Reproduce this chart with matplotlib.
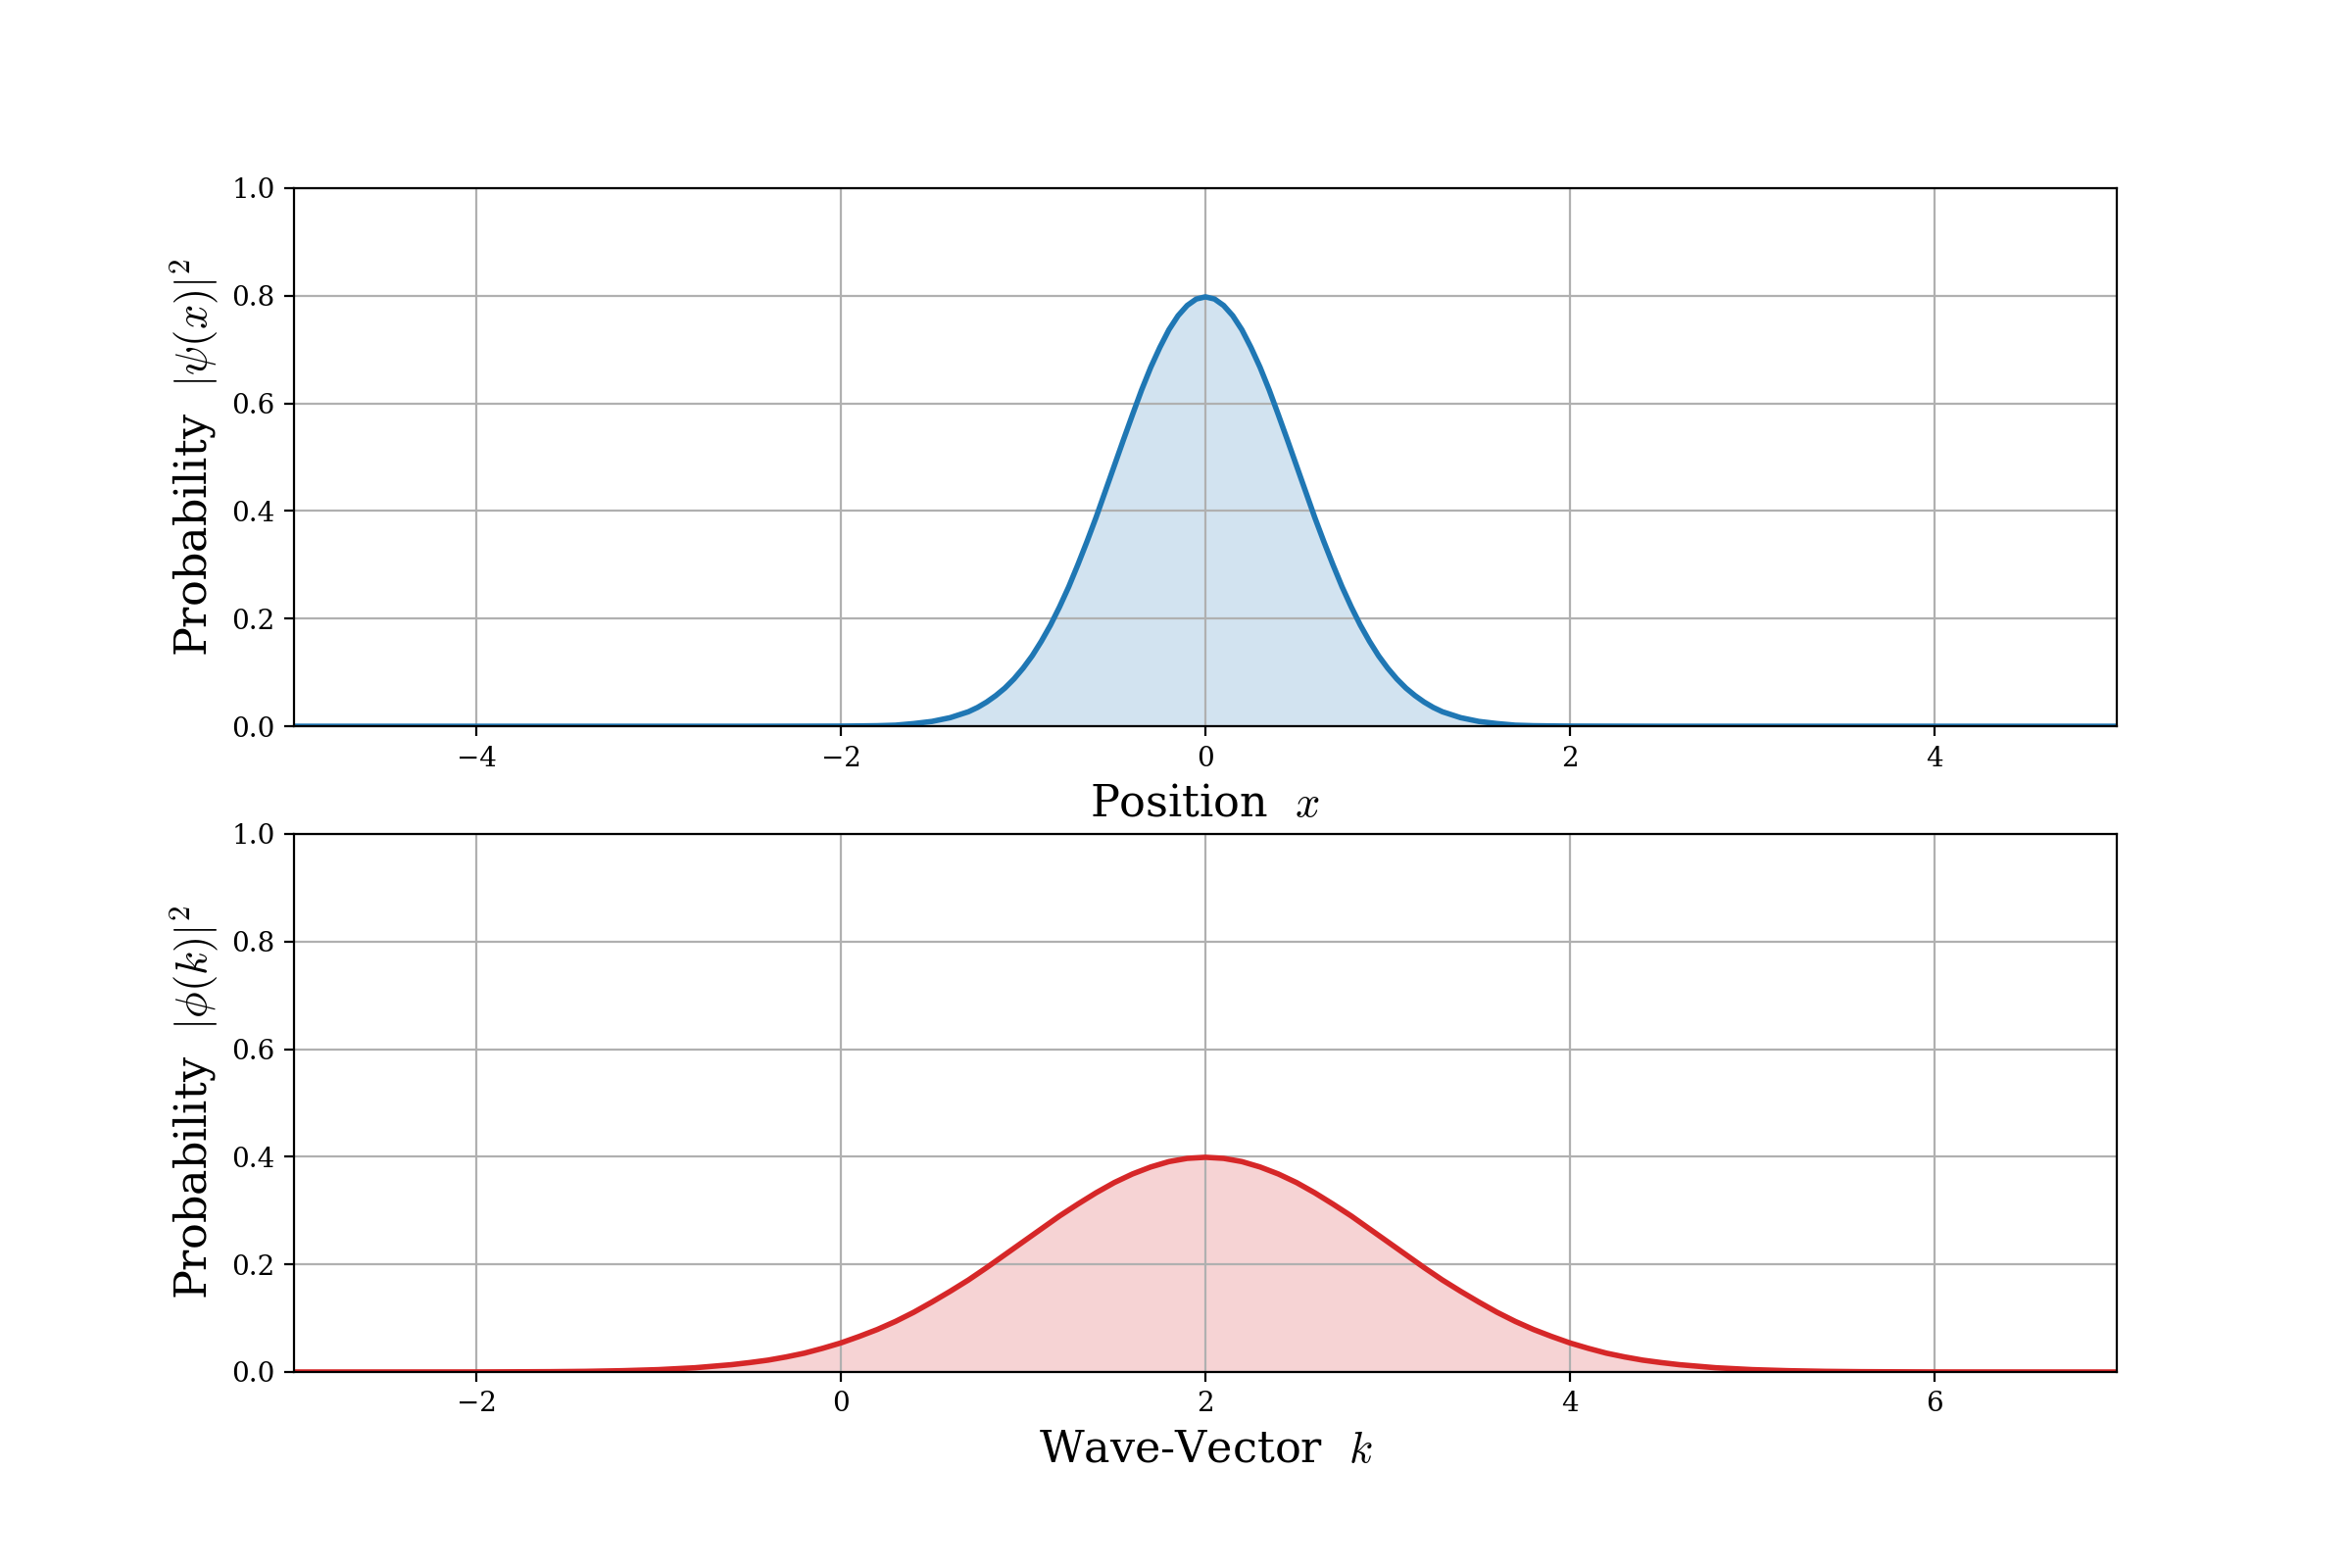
import numpy as np
import matplotlib
matplotlib.use("Agg")
import matplotlib.pyplot as plt

plt.rcParams['font.family'] = ['DejaVu Serif']
plt.rcParams['mathtext.fontset'] = 'cm'

# Position-space probability density
x_pos = [-5.0, -2.5, -2.0, -1.9, -1.8, -1.7, -1.6, -1.5, -1.4, -1.3,
         -1.25, -1.2, -1.15, -1.1, -1.05, -1.0, -0.95, -0.9, -0.85, -0.8,
         -0.75, -0.7, -0.65, -0.6, -0.55, -0.5, -0.45, -0.4, -0.35, -0.3,
         -0.25, -0.2, -0.15, -0.1, -0.05, 0.0,
         0.05, 0.1, 0.15, 0.2, 0.25,
         0.3, 0.35, 0.4, 0.45, 0.5, 0.55, 0.6, 0.65, 0.7, 0.75,
         0.8, 0.85, 0.9, 0.95, 1.0, 1.05, 1.1, 1.15, 1.2, 1.25,
         1.3, 1.4, 1.5, 1.6, 1.7, 1.8, 1.9, 2.0, 2.5, 5.0]
p_pos = [0.0, 0.0, 0.0003, 0.0006, 0.001, 0.002, 0.005, 0.009, 0.016, 0.027,
         0.035, 0.045, 0.057, 0.071, 0.088, 0.108, 0.131, 0.158, 0.188, 0.222,
         0.259, 0.300, 0.343, 0.388, 0.436, 0.484, 0.532, 0.579, 0.625, 0.667,
         0.704, 0.737, 0.763, 0.782, 0.794, 0.798,
         0.794, 0.782, 0.763, 0.737, 0.704,
         0.667, 0.625, 0.579, 0.532, 0.484, 0.436, 0.388, 0.343, 0.300, 0.259,
         0.222, 0.188, 0.158, 0.131, 0.108, 0.088, 0.071, 0.057, 0.045, 0.035,
         0.027, 0.016, 0.009, 0.005, 0.002, 0.001, 0.0006, 0.0003, 0.0, 0.0]

# Wave-vector probability density
k_vals = [-3.0, -2.0, -1.6, -1.4, -1.2, -1.0, -0.8, -0.6,
          -0.5, -0.4, -0.3, -0.2, -0.1, 0.0, 0.1, 0.2, 0.3, 0.4,
          0.5, 0.6, 0.7, 0.8, 0.9, 1.0, 1.1, 1.2, 1.3, 1.4,
          1.5, 1.6, 1.7, 1.8, 1.9, 2.0, 2.1, 2.2, 2.3, 2.4,
          2.5, 2.6, 2.7, 2.8, 2.9, 3.0, 3.1, 3.2, 3.3, 3.4,
          3.5, 3.6, 3.7, 3.8, 3.9, 4.0, 4.1, 4.2, 4.3, 4.4, 4.5,
          4.6, 4.8, 5.0, 5.2, 5.4, 5.6, 6.0, 7.0]
p_k = [0.0, 0.0001, 0.0006, 0.0012, 0.0024, 0.0044, 0.0079, 0.0136,
       0.0175, 0.022, 0.028, 0.035, 0.044, 0.054, 0.066, 0.079, 0.094, 0.111,
       0.130, 0.150, 0.171, 0.194, 0.218, 0.242, 0.266, 0.290, 0.312, 0.333,
       0.352, 0.368, 0.381, 0.391, 0.397, 0.399, 0.397, 0.391, 0.381, 0.368,
       0.352, 0.333, 0.312, 0.290, 0.266, 0.242, 0.218, 0.194, 0.171, 0.150,
       0.130, 0.111, 0.094, 0.079, 0.066, 0.054, 0.044, 0.035, 0.028, 0.022, 0.0175,
       0.0136, 0.0079, 0.0044, 0.0024, 0.0012, 0.0006, 0.0001, 0.0]

fig, (ax1, ax2) = plt.subplots(2, 1, figsize=(12, 8), dpi=200)
fig.subplots_adjust(bottom=0.125, top=0.88, left=0.125, right=0.9, hspace=0.2)

ax1.plot(x_pos, p_pos, color='#1f77b4', lw=2)
ax1.fill_between(x_pos, p_pos, 0, color='#1f77b4', alpha=0.2, lw=0)
ax1.set_xlim(-5, 5)
ax1.set_ylim(0, 1)
ax1.grid(True)
ax1.set_xlabel(r'Position  $x$', fontsize=16)
ax1.set_ylabel(r'Probability  $|\psi(x)|^2$', fontsize=16)

ax2.plot(k_vals, p_k, color='#d62728', lw=2)
ax2.fill_between(k_vals, p_k, 0, color='#d62728', alpha=0.2, lw=0)
ax2.set_xlim(-3, 7)
ax2.set_ylim(0, 1)
ax2.grid(True)
ax2.set_xlabel(r'Wave-Vector  $k$', fontsize=16)
ax2.set_ylabel(r'Probability  $|\phi(k)|^2$', fontsize=16)

fig.savefig('out.png', dpi=200)
